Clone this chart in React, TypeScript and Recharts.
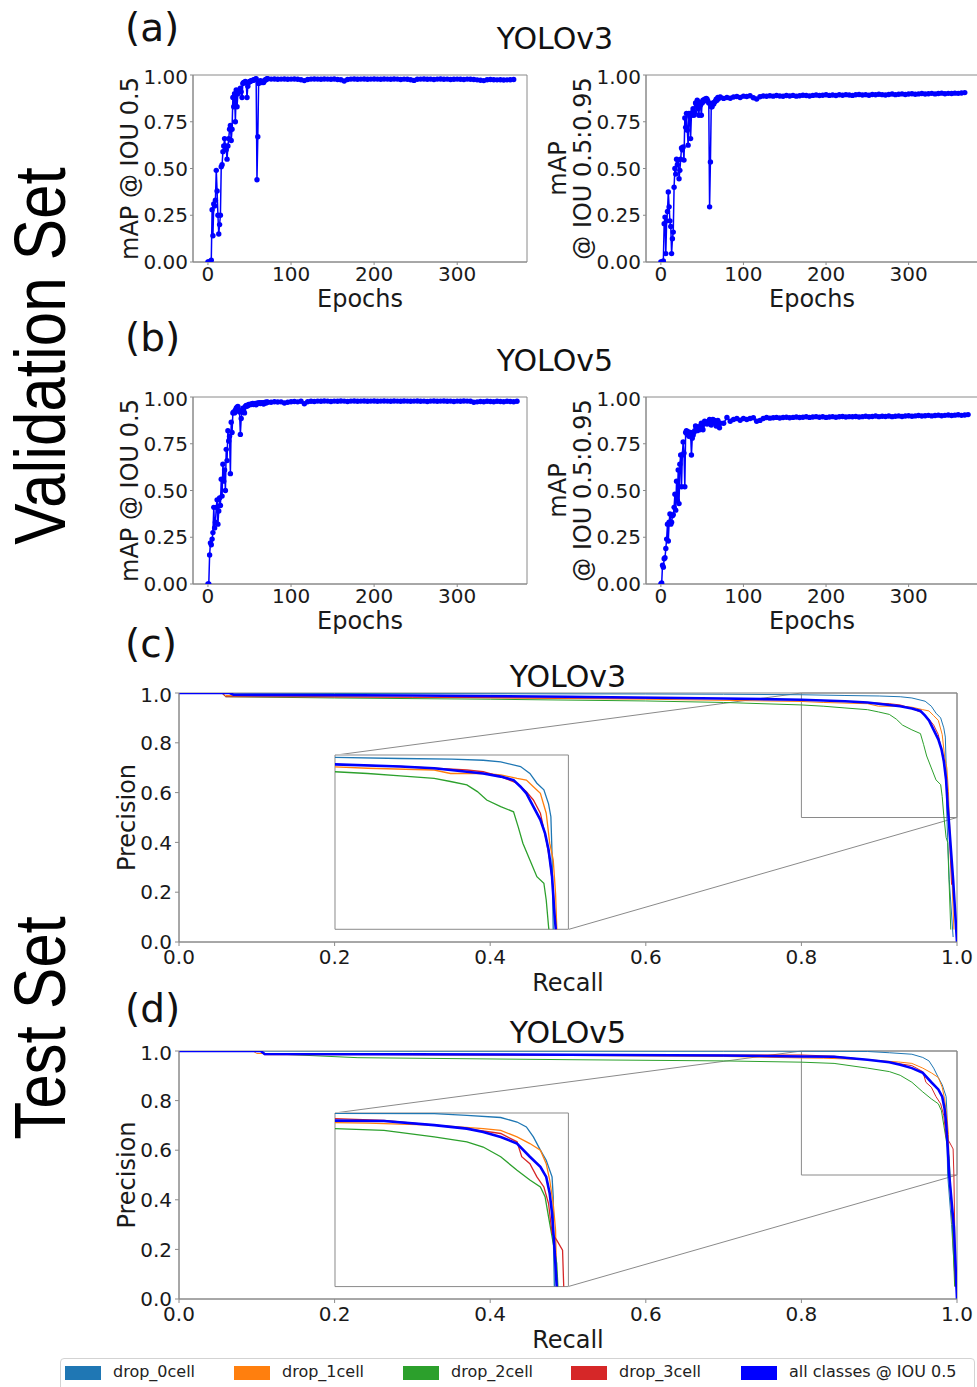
import React from 'react';
import { LineChart, Line, XAxis, YAxis, ReferenceArea, ReferenceLine } from 'recharts';

const FONT = '"DejaVu Sans", sans-serif';
const FRAME = '#8a8a8a';
const TICK = '#1a1a1a';

// ---------- validation curves: mAP per epoch ----------
const epochsEarly = [
  0, 1, 2, 3, 4, 5, 6, 7, 8, 9,
  10, 11, 12, 13, 14, 15, 16, 17, 18, 19,
  20, 21, 22, 23, 24, 25, 26, 27, 28, 29,
  30, 31, 32, 33, 34, 35, 36, 37, 38, 39,
  40, 41, 42, 43, 44, 45, 46, 47, 48, 49,
  50, 51, 52, 53, 54, 55, 56, 57, 58, 59,
  60, 61, 62, 63, 64, 65, 66, 67, 68, 69,
  70, 71, 72,
];
const epochsLateV3 = [
  76, 80, 84, 88, 92, 96, 100, 104, 108, 112,
  116, 120, 124, 128, 132, 136, 140, 144, 148, 152,
  156, 160, 164, 168, 172, 176, 180, 184, 188, 192,
  196, 200, 204, 208, 212, 216, 220, 224, 228, 232,
  236, 240, 244, 248, 252, 256, 260, 264, 268, 272,
  276, 280, 284, 288, 292, 296, 300, 304, 308, 312,
  316, 320, 324, 328, 332, 336, 340, 344, 348, 352,
  356, 360, 364, 368,
];
const epochsLateV5 = [...epochsLateV3, 372];

const v3Map50 = [
  0.0, 0.0, 0.0, 0.0, 0.01, 0.28, 0.14, 0.31, 0.3, 0.33,
  0.49, 0.38, 0.25, 0.15, 0.2, 0.25, 0.51, 0.52, 0.59, 0.62,
  0.66, 0.62, 0.6, 0.55, 0.62, 0.66, 0.71, 0.73, 0.65, 0.71,
  0.88, 0.83, 0.9, 0.75, 0.92, 0.83, 0.9, 0.91, 0.92, 0.93,
  0.91, 0.88, 0.955, 0.96, 0.96, 0.965, 0.96, 0.88, 0.94, 0.96,
  0.965, 0.965, 0.97, 0.97, 0.972, 0.973, 0.975, 0.978, 0.98, 0.44,
  0.67, 0.955, 0.96, 0.97, 0.965, 0.96, 0.965, 0.96, 0.97, 0.975,
  0.975, 0.98, 0.98,
  0.978, 0.979, 0.977, 0.978, 0.979, 0.977, 0.978, 0.979, 0.977, 0.975,
  0.97, 0.976, 0.978, 0.979, 0.978, 0.977, 0.979, 0.978, 0.977, 0.979,
  0.976, 0.975, 0.968, 0.976, 0.978, 0.979, 0.977, 0.978, 0.979, 0.977,
  0.978, 0.979, 0.978, 0.977, 0.979, 0.978, 0.977, 0.979, 0.978, 0.976,
  0.978, 0.977, 0.975, 0.971, 0.977, 0.978, 0.979, 0.977, 0.978, 0.976,
  0.978, 0.979, 0.977, 0.978, 0.976, 0.977, 0.978, 0.977, 0.976, 0.978,
  0.977, 0.976, 0.974, 0.972, 0.97, 0.975, 0.976, 0.975, 0.974, 0.975,
  0.973, 0.974, 0.975, 0.976,
];
const v3Map5095 = [
  0, 0, 0, 0.005, 0.205, 0.24, 0.045, 0.22, 0.27, 0.375,
  0.295, 0.22, 0.19, 0.045, 0.125, 0.16, 0.4, 0.5, 0.47, 0.55,
  0.52, 0.545, 0.445, 0.49, 0.55, 0.61, 0.6, 0.615, 0.545, 0.77,
  0.72, 0.795, 0.705, 0.625, 0.795, 0.78, 0.66, 0.785, 0.8, 0.82,
  0.785, 0.8, 0.85, 0.84, 0.865, 0.82, 0.785, 0.855, 0.84, 0.785,
  0.85, 0.865, 0.86, 0.87, 0.865, 0.875, 0.87, 0.86, 0.85, 0.295,
  0.535, 0.83, 0.83, 0.85, 0.845, 0.855, 0.86, 0.87, 0.865, 0.88,
  0.875, 0.88, 0.882,
  0.875, 0.88, 0.876, 0.882, 0.885, 0.88, 0.887, 0.885, 0.889, 0.878,
  0.872, 0.884, 0.888, 0.886, 0.889, 0.887, 0.89, 0.888, 0.886, 0.89,
  0.888, 0.891, 0.887, 0.889, 0.892, 0.89, 0.888, 0.891, 0.893, 0.89,
  0.892, 0.894, 0.891, 0.893, 0.89, 0.894, 0.892, 0.895, 0.893, 0.891,
  0.894, 0.896, 0.893, 0.895, 0.892, 0.896, 0.894, 0.897, 0.895, 0.893,
  0.896, 0.898, 0.895, 0.897, 0.899, 0.896, 0.898, 0.9, 0.897, 0.899,
  0.901, 0.898, 0.9, 0.902, 0.899, 0.901, 0.903, 0.9, 0.902, 0.901,
  0.903, 0.902, 0.904, 0.906,
];
const v5Map50 = [
  0, 0, 0.155, 0.22, 0.21, 0.24, 0.275, 0.41, 0.3, 0.33,
  0.41, 0.45, 0.32, 0.39, 0.46, 0.42, 0.56, 0.47, 0.64, 0.55,
  0.61, 0.5, 0.72, 0.66, 0.82, 0.765, 0.79, 0.59, 0.865, 0.81,
  0.915, 0.92, 0.915, 0.93, 0.94, 0.945, 0.95, 0.93, 0.92, 0.8,
  0.885, 0.92, 0.94, 0.93, 0.915, 0.95, 0.955, 0.95, 0.955, 0.96,
  0.958, 0.962, 0.96, 0.963, 0.965, 0.96, 0.962, 0.965, 0.958, 0.965,
  0.968, 0.966, 0.97, 0.965, 0.968, 0.97, 0.967, 0.962, 0.97, 0.972,
  0.968, 0.974, 0.972,
  0.972, 0.975, 0.973, 0.974, 0.968, 0.972, 0.975, 0.976, 0.974, 0.977,
  0.964, 0.975, 0.977, 0.976, 0.978, 0.977, 0.979, 0.978, 0.976, 0.978,
  0.977, 0.979, 0.978, 0.976, 0.978, 0.979, 0.977, 0.978, 0.979, 0.977,
  0.978, 0.979, 0.977, 0.978, 0.979, 0.978, 0.977, 0.979, 0.978, 0.977,
  0.979, 0.978, 0.977, 0.978, 0.979, 0.977, 0.978, 0.976, 0.978, 0.979,
  0.977, 0.978, 0.979, 0.977, 0.978, 0.976, 0.978, 0.977, 0.979, 0.978,
  0.977, 0.972, 0.974, 0.976, 0.975, 0.977, 0.976, 0.975, 0.977, 0.976,
  0.975, 0.977, 0.976, 0.975, 0.977,
];
const v5Map5095 = [
  0, 0.005, 0.1, 0.09, 0.135, 0.14, 0.19, 0.24, 0.32, 0.23,
  0.33, 0.375, 0.32, 0.33, 0.365, 0.37, 0.41, 0.48, 0.395, 0.55,
  0.445, 0.61, 0.43, 0.64, 0.69, 0.52, 0.69, 0.76, 0.7, 0.52,
  0.81, 0.82, 0.8, 0.815, 0.79, 0.8, 0.81, 0.69, 0.78, 0.795,
  0.81, 0.82, 0.845, 0.83, 0.82, 0.84, 0.835, 0.825, 0.845, 0.86,
  0.84, 0.825, 0.855, 0.87, 0.86, 0.865, 0.855, 0.86, 0.87, 0.88,
  0.865, 0.85, 0.875, 0.88, 0.87, 0.875, 0.86, 0.845, 0.865, 0.875,
  0.85, 0.835, 0.86,
  0.86, 0.89, 0.87, 0.88, 0.885, 0.876, 0.885, 0.88, 0.885, 0.889,
  0.87, 0.875, 0.885, 0.89, 0.887, 0.889, 0.891, 0.888, 0.89, 0.892,
  0.889, 0.891, 0.893, 0.89, 0.892, 0.894, 0.891, 0.893, 0.895, 0.892,
  0.894, 0.891, 0.893, 0.895, 0.892, 0.894, 0.896, 0.893, 0.895, 0.894,
  0.896, 0.893, 0.895, 0.897, 0.894, 0.896, 0.898, 0.895, 0.897, 0.896,
  0.898, 0.895, 0.897, 0.899, 0.896, 0.898, 0.9, 0.897, 0.899, 0.901,
  0.898, 0.9, 0.902, 0.899, 0.901, 0.903, 0.9, 0.902, 0.904, 0.901,
  0.903, 0.905, 0.902, 0.904, 0.906,
];

// ---------- test set: precision / recall ----------
const seriesNames = ['drop_0cell', 'drop_1cell', 'drop_2cell', 'drop_3cell', 'all classes @ IOU 0.5'];
const seriesColors = ['#1f77b4', '#ff7f0e', '#2ca02c', '#d62728', '#0000ff'];

const v3Recall0 = [0, 0.05, 0.2, 0.4, 0.6, 0.7, 0.8, 0.856, 0.9, 0.927, 0.942, 0.959, 0.967, 0.973, 0.979, 0.983, 0.985, 0.986, 0.987, 0.99, 0.995];
const v3Prec0 = [1, 1, 0.998, 0.997, 0.996, 0.995, 0.993, 0.99, 0.988, 0.985, 0.98, 0.967, 0.947, 0.919, 0.9, 0.86, 0.823, 0.717, 0.5, 0.25, 0.02];
const v3Recall1 = [0, 0.055, 0.06, 0.2, 0.4, 0.6, 0.8, 0.828, 0.885, 0.899, 0.927, 0.942, 0.956, 0.964, 0.97, 0.976, 0.981, 0.984, 0.987, 0.989, 0.99, 0.993, 0.996];
const v3Prec1 = [1, 1, 0.99, 0.985, 0.98, 0.975, 0.966, 0.962, 0.957, 0.947, 0.947, 0.943, 0.933, 0.928, 0.909, 0.89, 0.833, 0.747, 0.699, 0.603, 0.508, 0.3, 0.05];
const v3Recall2 = [0, 0.055, 0.06, 0.2, 0.4, 0.6, 0.7, 0.8, 0.828, 0.856, 0.885, 0.899, 0.913, 0.922, 0.93, 0.942, 0.953, 0.957, 0.961, 0.967, 0.973, 0.979, 0.981, 0.983, 0.986, 0.988, 0.992];
const v3Prec2 = [1, 1, 0.985, 0.98, 0.975, 0.968, 0.962, 0.952, 0.947, 0.94, 0.933, 0.924, 0.914, 0.895, 0.871, 0.852, 0.837, 0.794, 0.747, 0.699, 0.651, 0.632, 0.584, 0.508, 0.42, 0.4, 0.05];
const v3Recall3 = [0, 0.055, 0.06, 0.3, 0.5, 0.7, 0.8, 0.856, 0.885, 0.913, 0.927, 0.942, 0.956, 0.964, 0.97, 0.976, 0.981, 0.984, 0.987, 0.989, 0.993];
const v3Prec3 = [1, 1, 0.985, 0.983, 0.98, 0.977, 0.973, 0.967, 0.962, 0.957, 0.952, 0.938, 0.919, 0.895, 0.871, 0.833, 0.756, 0.699, 0.613, 0.508, 0.23];
const v3RecallAll = [0, 0.065, 0.07, 0.3, 0.5, 0.7, 0.8, 0.856, 0.885, 0.913, 0.927, 0.942, 0.953, 0.959, 0.964, 0.97, 0.976, 0.98, 0.983, 0.986, 0.988, 0.989, 0.995, 1];
const v3PrecAll = [1, 1, 0.993, 0.99, 0.985, 0.978, 0.973, 0.967, 0.962, 0.952, 0.947, 0.938, 0.928, 0.909, 0.89, 0.852, 0.814, 0.775, 0.728, 0.651, 0.546, 0.508, 0.25, 0];

const v5Recall0 = [0, 0.1, 0.3, 0.5, 0.7, 0.8, 0.885, 0.913, 0.942, 0.956, 0.964, 0.97, 0.976, 0.981, 0.986, 0.987, 0.987, 0.988, 0.993, 0.998];
const v5Prec0 = [1, 1, 0.999, 0.999, 0.999, 0.999, 0.998, 0.993, 0.987, 0.974, 0.96, 0.931, 0.893, 0.864, 0.816, 0.759, 0.663, 0.5, 0.3, 0.05];
const v5Recall1 = [0, 0.095, 0.1, 0.3, 0.5, 0.7, 0.8, 0.828, 0.885, 0.927, 0.942, 0.956, 0.967, 0.976, 0.981, 0.984, 0.987, 0.989, 0.99, 0.994, 0.998];
const v5Prec1 = [1, 1, 0.99, 0.985, 0.982, 0.978, 0.972, 0.971, 0.965, 0.955, 0.95, 0.931, 0.912, 0.893, 0.854, 0.807, 0.739, 0.663, 0.5, 0.3, 0.05];
const v5Recall2 = [0, 0.105, 0.11, 0.23, 0.5, 0.7, 0.8, 0.842, 0.885, 0.913, 0.927, 0.942, 0.956, 0.967, 0.976, 0.98, 0.983, 0.986, 0.99, 0.991, 0.994, 0.997];
const v5Prec2 = [1, 1, 0.99, 0.973, 0.965, 0.96, 0.955, 0.95, 0.931, 0.917, 0.902, 0.874, 0.835, 0.807, 0.787, 0.759, 0.701, 0.644, 0.567, 0.5, 0.3, 0.05];
const v5Recall3 = [0, 0.105, 0.11, 0.3, 0.5, 0.7, 0.8, 0.842, 0.885, 0.913, 0.942, 0.956, 0.96, 0.967, 0.973, 0.979, 0.983, 0.986, 0.99, 0.995, 0.996, 0.997, 0.998];
const v5Prec3 = [1, 1, 0.985, 0.985, 0.984, 0.984, 0.984, 0.979, 0.965, 0.955, 0.941, 0.917, 0.874, 0.854, 0.816, 0.787, 0.739, 0.653, 0.634, 0.605, 0.5, 0.3, 0.05];
const v5RecallAll = [0, 0.105, 0.11, 0.3, 0.5, 0.7, 0.8, 0.842, 0.885, 0.913, 0.927, 0.942, 0.956, 0.967, 0.976, 0.981, 0.984, 0.986, 0.988, 0.99, 0.996, 1];
const v5PrecAll = [1, 1, 0.988, 0.987, 0.985, 0.982, 0.978, 0.977, 0.965, 0.955, 0.945, 0.931, 0.912, 0.874, 0.845, 0.816, 0.768, 0.711, 0.615, 0.5, 0.29, 0];

const prTicks = [0, 0.2, 0.4, 0.6, 0.8, 1];
const mapTicksX = [0, 100, 200, 300];
const mapTicksY = [0, 0.25, 0.5, 0.75, 1];

type Box = { l: number; t: number; r: number; b: number };

const toRows = (xs: number[], ys: number[]) => xs.map((x, i) => ({ r: x, p: ys[i] }));

function MapPanel({ box, epochs, values, yLines, yDists, xDrop }: {
  box: Box; epochs: number[]; values: number[]; yLines: string[]; yDists: number[]; xDrop: number;
}) {
  const padL = 110, padT = 10, padR = 12, padB = 60;
  const pw = box.r - box.l, ph = box.b - box.t;
  const rows = epochs.map((e, i) => ({ epoch: e, map: values[i] }));
  const midY = padT + ph / 2;
  return (
    <div style={{ position: 'absolute', left: box.l - padL, top: box.t - padT }}>
      <LineChart width={pw + padL + padR} height={ph + padT + padB} data={rows}
        margin={{ top: padT, right: padR, bottom: 0, left: 0 }}>
        <XAxis dataKey="epoch" type="number" domain={[-18, 384]} allowDataOverflow ticks={mapTicksX}
          height={padB} tickSize={3} tickMargin={2} stroke={FRAME}
          tick={{ fill: TICK, fontSize: 20, fontFamily: FONT }}
          label={{
            content: () => (
              <text x={padL + pw / 2} y={padT + ph + xDrop} textAnchor="middle" fontSize={24} fontFamily={FONT} fill={TICK}>Epochs</text>
            ),
          }} />
        <YAxis type="number" domain={[0, 1]} allowDataOverflow ticks={mapTicksY} tickFormatter={(v: number) => v.toFixed(2)}
          width={padL} tickSize={3} tickMargin={2} stroke={FRAME}
          tick={{ fill: TICK, fontSize: 20, fontFamily: FONT }}
          label={{
            content: () => (
              <g>
                {yLines.map((s, i) => (
                  <text key={s} x={padL - yDists[i]} y={midY} textAnchor="middle" fontSize={24} fontFamily={FONT} fill={TICK}
                    transform={`rotate(-90 ${padL - yDists[i]} ${midY})`}>{s}</text>
                ))}
              </g>
            ),
          }} />
        <ReferenceArea x1={-18} x2={384} y1={0} y2={1} fill="none" stroke={FRAME} strokeWidth={1} />
        <Line dataKey="map" stroke="#0000ff" strokeWidth={1.5} isAnimationActive={false} activeDot={false}
          dot={{ r: 2.7, fill: '#0000ff', stroke: 'none' }} />
      </LineChart>
    </div>
  );
}

function PrPanel({ box, recalls, precs }: { box: Box; recalls: number[][]; precs: number[][] }) {
  const padL = 100, padT = 10, padR = 22, padB = 70;
  const pw = box.r - box.l, ph = box.b - box.t;
  const series = recalls.map((xs, i) => toRows(xs, precs[i]));
  const midY = padT + ph / 2;
  const lines = (main: boolean) => series.map((rows, i) => (
    <Line key={seriesNames[i]} name={seriesNames[i]} data={rows} dataKey="p" stroke={seriesColors[i]}
      strokeWidth={i === 4 ? 2.6 : main ? 1 : 1.3} dot={false} activeDot={false} isAnimationActive={false} />
  ));
  const iw = 0.3 * pw, ih = 0.7 * ph;
  return (
    <div style={{ position: 'absolute', left: box.l - padL, top: box.t - padT }}>
      <LineChart width={pw + padL + padR} height={ph + padT + padB} margin={{ top: padT, right: padR, bottom: 0, left: 0 }}>
        <XAxis dataKey="r" type="number" domain={[0, 1]} allowDataOverflow ticks={prTicks}
          tickFormatter={(v: number) => v.toFixed(1)} height={padB} tickSize={4} tickMargin={4} stroke={FRAME}
          tick={{ fill: TICK, fontSize: 20, fontFamily: FONT }}
          label={{
            content: () => (
              <text x={padL + pw / 2} y={padT + ph + 49} textAnchor="middle" fontSize={24} fontFamily={FONT} fill={TICK}>Recall</text>
            ),
          }} />
        <YAxis type="number" domain={[0, 1]} allowDataOverflow ticks={prTicks} tickFormatter={(v: number) => v.toFixed(1)}
          width={padL} tickSize={4} tickMargin={3} stroke={FRAME}
          tick={{ fill: TICK, fontSize: 20, fontFamily: FONT }}
          label={{
            content: () => (
              <text x={padL - 44} y={midY} textAnchor="middle" fontSize={24} fontFamily={FONT} fill={TICK}
                transform={`rotate(-90 ${padL - 44} ${midY})`}>Precision</text>
            ),
          }} />
        <ReferenceArea x1={0} x2={1} y1={0} y2={1} fill="none" stroke={FRAME} />
        <ReferenceArea x1={0.8} x2={1} y1={0.5} y2={1} fill="none" stroke={FRAME} />
        <ReferenceLine segment={[{ x: 0.2, y: 0.75 }, { x: 0.8, y: 1 }]} stroke={FRAME} />
        <ReferenceLine segment={[{ x: 0.5, y: 0.05 }, { x: 1, y: 0.5 }]} stroke={FRAME} />
        {lines(true)}
      </LineChart>
      <div style={{ position: 'absolute', left: padL + 0.2 * pw - 1, top: padT + 0.25 * ph - 1, background: '#fff' }}>
        <LineChart width={iw + 2} height={ih + 2} margin={{ top: 1, right: 1, bottom: 1, left: 1 }}>
          <XAxis hide dataKey="r" type="number" domain={[0.8, 1]} allowDataOverflow />
          <YAxis hide type="number" domain={[0.5, 1]} allowDataOverflow />
          <ReferenceArea x1={0.8} x2={1} y1={0.5} y2={1} fill="none" stroke={FRAME} />
          {lines(false)}
        </LineChart>
      </div>
    </div>
  );
}

const legendX = [65, 234, 403, 571, 741];

export default function App() {
  const txt = { fontFamily: FONT, fill: '#111' };
  return (
    <div style={{ position: 'absolute', left: 0, top: 0, width: 977, height: 1387, background: '#fff', overflow: 'hidden' }}>
      <svg width={977} height={1387} style={{ position: 'absolute', left: 0, top: 0 }}>
        <text x={125} y={41} fontSize={39} {...txt}>(a)</text>
        <text x={125} y={351} fontSize={39} {...txt}>(b)</text>
        <text x={125} y={657} fontSize={39} {...txt}>(c)</text>
        <text x={125} y={1022} fontSize={39} {...txt}>(d)</text>
        <text x={555} y={49} fontSize={30} textAnchor="middle" {...txt}>YOLOv3</text>
        <text x={555} y={371} fontSize={30} textAnchor="middle" {...txt}>YOLOv5</text>
        <text x={568} y={687} fontSize={30} textAnchor="middle" {...txt}>YOLOv3</text>
        <text x={568} y={1043} fontSize={30} textAnchor="middle" {...txt}>YOLOv5</text>
        <text transform="translate(65 356) rotate(-90) scale(0.86 1)" textAnchor="middle" fontSize={72}
          fontFamily='"Liberation Sans", Arial, sans-serif' fill="#000">Validation Set</text>
        <text transform="translate(65 1028) rotate(-90) scale(0.86 1)" textAnchor="middle" fontSize={72}
          fontFamily='"Liberation Sans", Arial, sans-serif' fill="#000">Test Set</text>
      </svg>

      <MapPanel box={{ l: 193, t: 75, r: 527, b: 262 }} epochs={[...epochsEarly, ...epochsLateV3]} values={v3Map50}
        yLines={['mAP @ IOU 0.5']} yDists={[55]} xDrop={45} />
      <MapPanel box={{ l: 646, t: 75, r: 978, b: 262 }} epochs={[...epochsEarly, ...epochsLateV3]} values={v3Map5095}
        yLines={['mAP', '@ IOU 0.5:0.95']} yDists={[80, 55]} xDrop={45} />
      <MapPanel box={{ l: 193, t: 397, r: 527, b: 584 }} epochs={[...epochsEarly, ...epochsLateV5]} values={v5Map50}
        yLines={['mAP @ IOU 0.5']} yDists={[55]} xDrop={45} />
      <MapPanel box={{ l: 646, t: 397, r: 978, b: 584 }} epochs={[...epochsEarly, ...epochsLateV5]} values={v5Map5095}
        yLines={['mAP', '@ IOU 0.5:0.95']} yDists={[80, 55]} xDrop={45} />

      <PrPanel box={{ l: 179, t: 693, r: 957, b: 942 }}
        recalls={[v3Recall0, v3Recall1, v3Recall2, v3Recall3, v3RecallAll]}
        precs={[v3Prec0, v3Prec1, v3Prec2, v3Prec3, v3PrecAll]} />
      <PrPanel box={{ l: 179, t: 1051, r: 957, b: 1299 }}
        recalls={[v5Recall0, v5Recall1, v5Recall2, v5Recall3, v5RecallAll]}
        precs={[v5Prec0, v5Prec1, v5Prec2, v5Prec3, v5PrecAll]} />

      <div style={{
        position: 'absolute', left: 60, top: 1358, width: 915, height: 36, boxSizing: 'border-box',
        border: '1px solid #d3d3d3', borderRadius: 4, background: '#fff',
      }}>
        {seriesNames.map((name, i) => (
          <React.Fragment key={name}>
            <div style={{ position: 'absolute', left: legendX[i] - 61, top: 7, width: 36, height: 14, background: seriesColors[i] }} />
            <div style={{
              position: 'absolute', left: legendX[i] - 61 + 48, top: 3, fontFamily: FONT, fontSize: 16,
              color: '#222', whiteSpace: 'nowrap', lineHeight: '20px',
            }}>{name}</div>
          </React.Fragment>
        ))}
      </div>
    </div>
  );
}
